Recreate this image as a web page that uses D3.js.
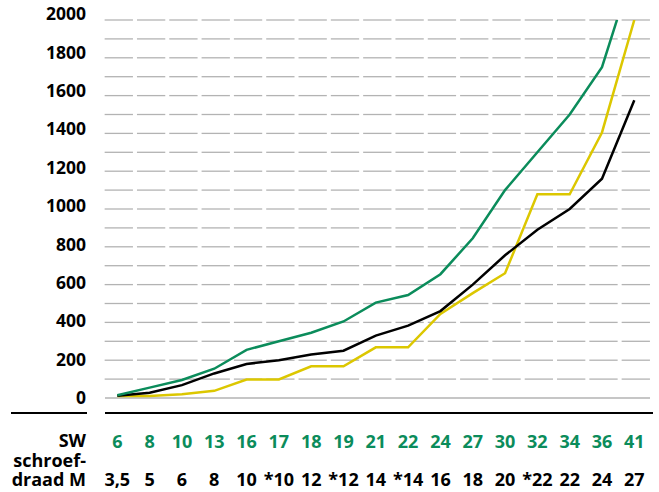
<!DOCTYPE html>
<html>
<head>
<meta charset="utf-8">
<script src="https://cdn.jsdelivr.net/npm/d3@7"></script>
<style>
body { margin: 0; background: #fff; }
text { font-family: "Open Sans", sans-serif; font-weight: 700; }
</style>
</head>
<body>
<script>
var width = 659, height = 492;
var green = "#0b8c5b", yellow = "#dcc700", black = "#000";

// sleutelwijdte (SW) en schroefdraad M
var swLabels = ["6","8","10","13","16","17","18","19","21","22","24","27","30","32","34","36","41"];
var mLabels = ["3,5","5","6","8","10","*10","12","*12","14","*14","16","18","20","*22","22","24","27"];
var yTicks = [0,200,400,600,800,1000,1200,1400,1600,1800,2000];
var gridValues = [100,200,300,400,500,600,700,800,900,1000,1100,1200,1300,1400,1500,1600,1700,1800,1900,2000];

var greenValues = [15,55,95,155,255,300,345,405,505,545,655,845,1100,1300,1500,1750,2290];
var blackValues = [12,28,68,130,180,200,230,250,330,383,460,600,755,890,1000,1160,1575];
var yellowValues = [10,10,20,38,98,98,168,168,268,268,445,555,660,1078,1078,1405,2000];

var svg = d3.select("body").append("svg").attr("width", width).attr("height", height);

var x = d3.scalePoint().domain(d3.range(swLabels.length)).range([117.3, 634.3]);
var y = d3.scaleLinear().domain([0, 2000]).range([398, 20]);
// labels of the value axis sit on a slightly wider spacing than the grid
var yLab = d3.scaleLinear().domain([0, 2000]).range([398, 14]);
var step = x.step();

// dashed grid: one short dash per category
var grid = svg.append("g");
gridValues.forEach(function(v) {
	grid.selectAll(null).data(swLabels).enter().append("line")
		.attr("x1", function(d, i) { return x(i) - step/2 + 3.5; })
		.attr("x2", function(d, i) { return x(i) + step/2 - 0.5; })
		.attr("y1", y(v)).attr("y2", y(v))
		.attr("stroke", "#b3b3b3").attr("stroke-width", 1.3);
});
svg.append("line").attr("x1", 105).attr("x2", 650).attr("y1", y(0)).attr("y2", y(0))
	.attr("stroke", "#b3b3b3").attr("stroke-width", 1.3);

// black rules under the chart
svg.append("line").attr("x1", 11).attr("x2", 87).attr("y1", 413).attr("y2", 413)
	.attr("stroke", black).attr("stroke-width", 2);
svg.append("line").attr("x1", 105).attr("x2", 653).attr("y1", 413).attr("y2", 413)
	.attr("stroke", black).attr("stroke-width", 2);

svg.selectAll(".ylab").data(yTicks).enter().append("text")
	.attr("class", "ylab")
	.attr("x", 86).attr("y", function(d) { return yLab(d); })
	.attr("dy", "0.35em")
	.attr("text-anchor", "end")
	.style("font-size", "17.5px")
	.text(function(d) { return d; });

svg.append("clipPath").attr("id", "clip").append("rect")
	.attr("x", 100).attr("y", y(2000)).attr("width", 560).attr("height", 400);

var line = d3.line().x(function(d, i) { return x(i); }).y(function(d) { return y(d); });

[[yellowValues, yellow], [blackValues, black], [greenValues, green]].forEach(function(s) {
	svg.append("path").datum(s[0])
		.attr("d", line)
		.attr("clip-path", "url(#clip)")
		.attr("fill", "none")
		.attr("stroke", s[1])
		.attr("stroke-width", 2.5)
		.attr("stroke-linejoin", "miter");
});

svg.selectAll(".sw").data(swLabels).enter().append("text")
	.attr("x", function(d, i) { return x(i); }).attr("y", 448)
	.attr("text-anchor", "middle").attr("fill", green)
	.style("font-size", "18px")
	.text(function(d) { return d; });

svg.selectAll(".m").data(mLabels).enter().append("text")
	.attr("x", function(d, i) { return x(i); }).attr("y", 486)
	.attr("text-anchor", "middle").attr("fill", black)
	.style("font-size", "18px")
	.text(function(d) { return d; });

[["SW", 447], ["schroef-", 467], ["draad M", 486]].forEach(function(t) {
	svg.append("text").attr("x", 86).attr("y", t[1])
		.attr("text-anchor", "end")
		.style("font-size", "18px")
		.text(t[0]);
});
</script>
</body>
</html>
